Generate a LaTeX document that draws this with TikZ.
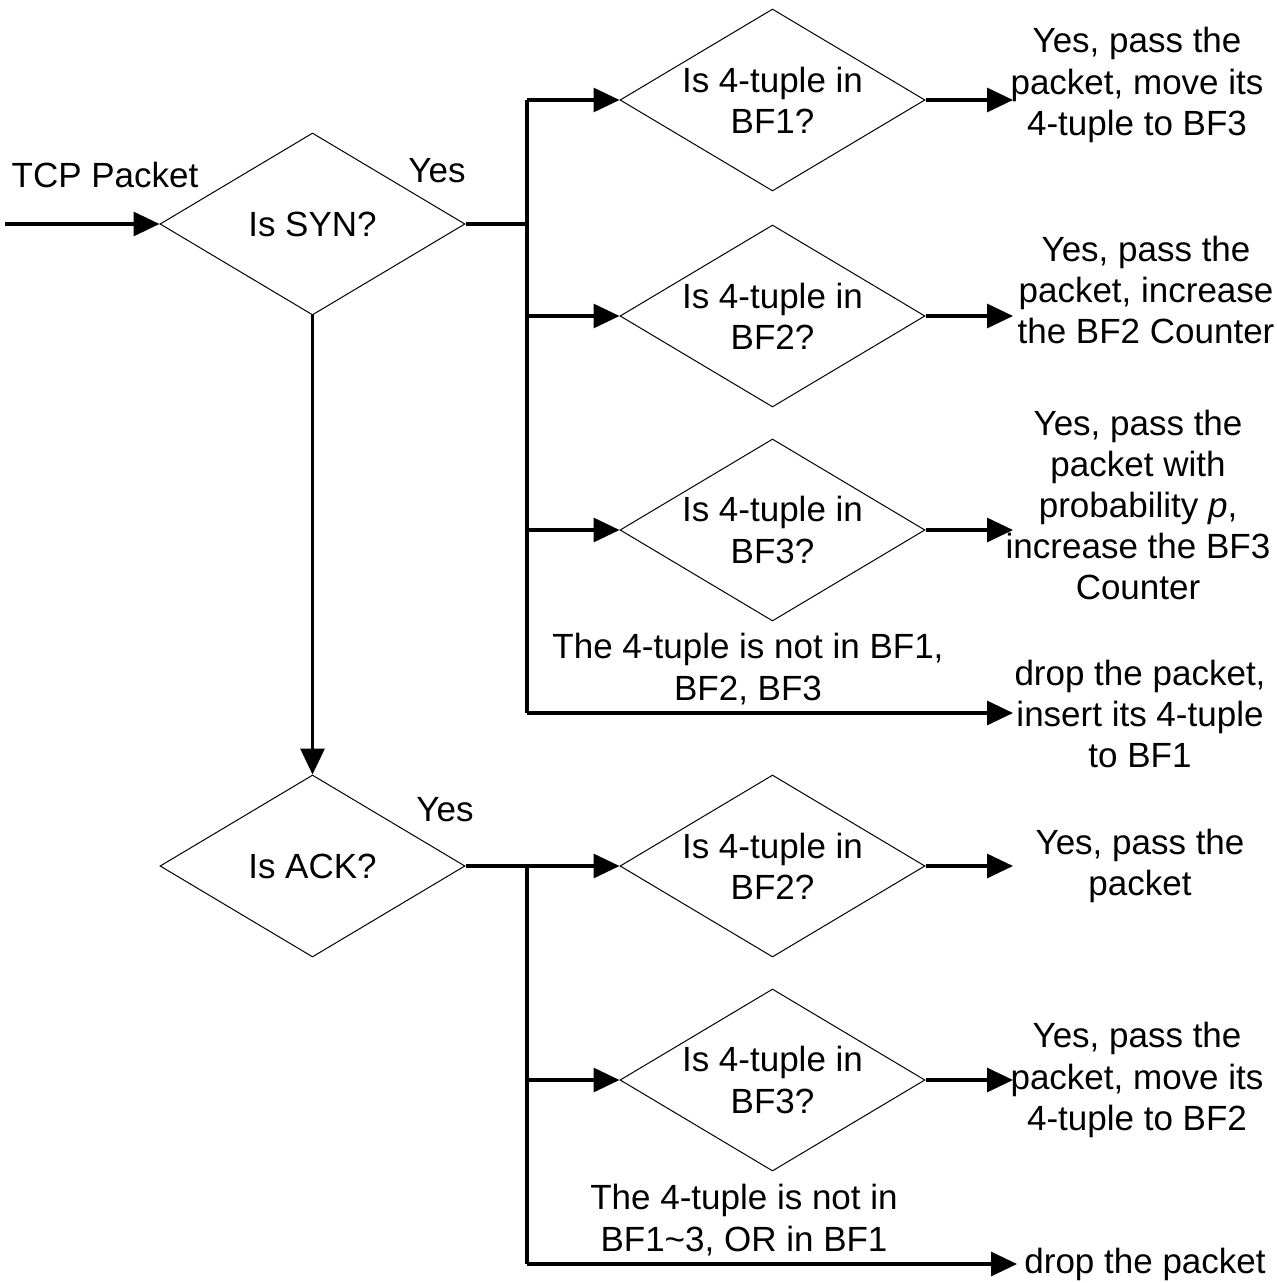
\documentclass[tikz,border=0pt]{standalone}
\usepackage{fontspec}
\setmainfont{Liberation Sans}
\usetikzlibrary{shapes.geometric,arrows.meta}
\tikzset{
  dia/.style={draw=black,line width=0.5pt,shape=diamond,minimum width=152.5pt,minimum height=91pt,inner sep=0pt},
  txt/.style={font=\fontsize{17.5}{20.6}\selectfont,align=center,inner sep=0pt},
  conn/.style={line width=1.6pt,-{Triangle[length=13pt,width=12pt]}},
  plain/.style={line width=1.6pt}
}
\begin{document}
\begin{tikzpicture}[x=0.5pt,y=-0.5pt]
\useasboundingbox (0,0) rectangle (1276,1283);
% main diamonds
\node[dia] (syn) at (312.5,224) {};
\node[txt] at (syn) {Is SYN?};
\node[dia] (ack) at (312.5,866) {};
\node[txt] at (ack) {Is ACK?};
\coordinate (in) at (5,224);
\node[txt] (tcp) at (105,175) {TCP Packet};
\node[txt] (yes1) at (437,171) {Yes};
\node[txt] (yes2) at (445,810) {Yes};
\draw[conn] (in) -- (syn.west);
\draw[conn] (syn.south) -- (ack.north);
% SYN branch
\node[dia] (s1) at (772.5,100) {};
\node[txt] at (s1) {Is 4-tuple in\\BF1?};
\node[dia] (s2) at (772.5,316) {};
\node[txt] at (s2) {Is 4-tuple in\\BF2?};
\node[dia] (s3) at (772.5,530) {};
\node[txt] at (s3) {Is 4-tuple in\\BF3?};
\coordinate (bs) at (527,224);
\coordinate (bs1) at (527,100);
\coordinate (bs2) at (527,316);
\coordinate (bs3) at (527,530);
\coordinate (bs4) at (527,713);
\draw[plain] (syn.east) -- (bs);
\draw[plain] (bs1) -- (bs4);
\draw[conn] (bs1) -- (s1.west);
\draw[conn] (bs2) -- (s2.west);
\draw[conn] (bs3) -- (s3.west);
\node[txt] (o1) at (1137,85) {Yes, pass the\\packet, move its\\4-tuple to BF3};
\node[txt] (o2) at (1146,290) {Yes, pass the\\packet, increase\\the BF2 Counter};
\node[txt] (o3) at (1138,505) {Yes, pass the\\packet with\\probability \textit{p},\\increase the BF3\\Counter};
\node[txt] (o4) at (1140,714) {drop the packet,\\insert its 4-tuple\\to BF1};
\node[txt] (n1) at (748,669) {The 4-tuple is not in BF1,\\BF2, BF3};
\coordinate (e1) at (1013,100);
\coordinate (e2) at (1013,316);
\coordinate (e3) at (1013,530);
\coordinate (e4) at (1013,713);
\draw[conn] (s1.east) -- (e1);
\draw[conn] (s2.east) -- (e2);
\draw[conn] (s3.east) -- (e3);
\draw[conn] (bs4) -- (e4);
% ACK branch
\node[dia] (a1) at (772.5,866) {};
\node[txt] at (a1) {Is 4-tuple in\\BF2?};
\node[dia] (a2) at (772.5,1080) {};
\node[txt] at (a2) {Is 4-tuple in\\BF3?};
\coordinate (ba) at (527,866);
\coordinate (ba2) at (527,1080);
\coordinate (ba3) at (527,1264);
\draw[plain] (ack.east) -- (ba);
\draw[plain] (ba) -- (ba3);
\draw[conn] (ba) -- (a1.west);
\draw[conn] (ba2) -- (a2.west);
\node[txt] (p1) at (1140,866) {Yes, pass the\\packet};
\node[txt] (p2) at (1137,1080) {Yes, pass the\\packet, move its\\4-tuple to BF2};
\node[txt,anchor=west] (p3) at (1024,1264) {drop the packet};
\node[txt] (n2) at (744,1220) {The 4-tuple is not in\\BF1\textasciitilde 3, OR in BF1};
\coordinate (f1) at (1013,866);
\coordinate (f2) at (1013,1080);
\coordinate (f3) at (1017,1264);
\draw[conn] (a1.east) -- (f1);
\draw[conn] (a2.east) -- (f2);
\draw[conn] (ba3) -- (f3);
\end{tikzpicture}
\end{document}
